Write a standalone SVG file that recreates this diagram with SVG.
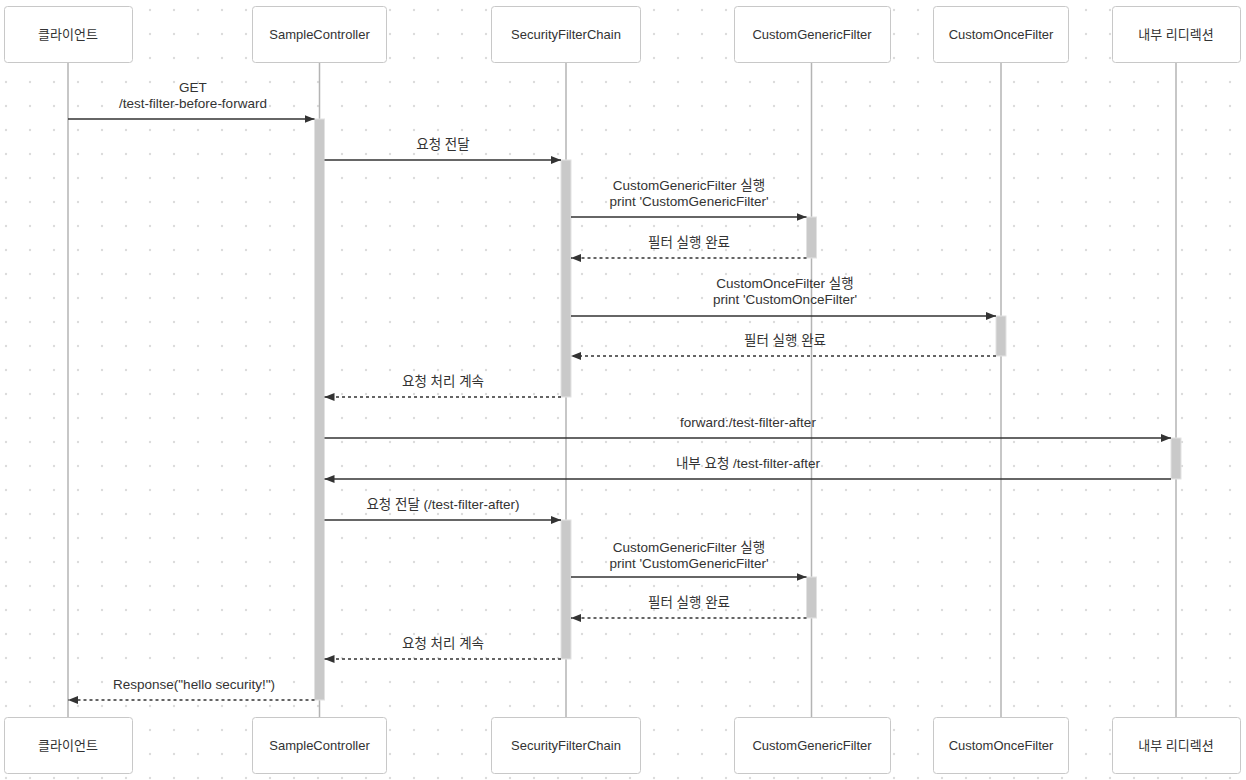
<svg xmlns="http://www.w3.org/2000/svg" width="1246" height="780" viewBox="0 0 1246 780">
<style>
.box{fill:#fff;stroke:#c8c8c8;stroke-width:1}
.nt{font-family:"Liberation Sans","Noto Sans CJK KR",sans-serif;font-size:13px;fill:#333;text-anchor:middle}
.lt{font-family:"Liberation Sans","Noto Sans CJK KR",sans-serif;font-size:13.5px;fill:#333;text-anchor:middle}
.life{stroke:#b4b4b4;stroke-width:1.5;fill:none}
.act{fill:#c9c9c9;stroke:#e2e2e2;stroke-width:1}
.msg{stroke:#333;stroke-width:1.3;fill:none;marker-end:url(#ah)}
.dash{stroke-dasharray:3,3}
</style>
<defs>
<pattern id="dots" width="24" height="24" patternUnits="userSpaceOnUse">
<circle cx="6" cy="10" r="1.2" fill="#dcdcdc"/>
</pattern>
<marker id="ah" viewBox="0 0 10 8" refX="10" refY="4" markerWidth="10" markerHeight="8" markerUnits="userSpaceOnUse" orient="auto">
<path d="M0,0 L10,4 L0,8 Z" fill="#333"/>
</marker>
</defs>
<rect width="1246" height="780" fill="#fff"/>
<rect width="1246" height="780" fill="url(#dots)"/>
<g id="lifelines">
<line class="life" x1="68" y1="62" x2="68" y2="718"/>
<line class="life" x1="319.5" y1="62" x2="319.5" y2="718"/>
<line class="life" x1="566" y1="62" x2="566" y2="718"/>
<line class="life" x1="811.5" y1="62" x2="811.5" y2="718"/>
<line class="life" x1="1001" y1="62" x2="1001" y2="718"/>
<line class="life" x1="1176" y1="62" x2="1176" y2="718"/>
</g>
<g id="activations">
<rect class="act" x="314.5" y="119" width="10" height="581"/>
<rect class="act" x="561" y="160" width="10" height="237"/>
<rect class="act" x="806.5" y="217" width="10" height="41"/>
<rect class="act" x="996" y="316" width="10" height="40"/>
<rect class="act" x="1171" y="438" width="10" height="41"/>
<rect class="act" x="561" y="520" width="10" height="139"/>
<rect class="act" x="806.5" y="577" width="10" height="41"/>
</g>
<g id="client">
<rect class="box" x="4.5" y="6.5" width="128" height="56" rx="3"/>
<text class="nt" x="68" y="39">클라이언트</text>
<rect class="box" x="4.5" y="717.5" width="128" height="56" rx="3"/>
<text class="nt" x="68" y="750">클라이언트</text>
</g>
<g id="sampleController">
<rect class="box" x="252.5" y="6.5" width="134" height="56" rx="3"/>
<text class="nt" x="319.5" y="39">SampleController</text>
<rect class="box" x="252.5" y="717.5" width="134" height="56" rx="3"/>
<text class="nt" x="319.5" y="750">SampleController</text>
</g>
<g id="securityFilterChain">
<rect class="box" x="491.5" y="6.5" width="149" height="56" rx="3"/>
<text class="nt" x="566" y="39">SecurityFilterChain</text>
<rect class="box" x="491.5" y="717.5" width="149" height="56" rx="3"/>
<text class="nt" x="566" y="750">SecurityFilterChain</text>
</g>
<g id="customGenericFilter">
<rect class="box" x="734.5" y="6.5" width="156" height="56" rx="3"/>
<text class="nt" x="812" y="39">CustomGenericFilter</text>
<rect class="box" x="734.5" y="717.5" width="156" height="56" rx="3"/>
<text class="nt" x="812" y="750">CustomGenericFilter</text>
</g>
<g id="customOnceFilter">
<rect class="box" x="933.5" y="6.5" width="135" height="56" rx="3"/>
<text class="nt" x="1001" y="39">CustomOnceFilter</text>
<rect class="box" x="933.5" y="717.5" width="135" height="56" rx="3"/>
<text class="nt" x="1001" y="750">CustomOnceFilter</text>
</g>
<g id="internalRedirect">
<rect class="box" x="1112.5" y="6.5" width="128" height="56" rx="3"/>
<text class="nt" x="1176" y="39">내부 리디렉션</text>
<rect class="box" x="1112.5" y="717.5" width="128" height="56" rx="3"/>
<text class="nt" x="1176" y="750">내부 리디렉션</text>
</g>
<g id="connectors">
<line class="msg" x1="68" y1="119" x2="314.5" y2="119"/>
<text class="lt" x="193" y="92">GET</text>
<text class="lt" x="193" y="108">/test-filter-before-forward</text>
<line class="msg" x1="324.5" y1="160" x2="561" y2="160"/>
<text class="lt" x="443" y="149">요청 전달</text>
<line class="msg" x1="571" y1="217" x2="806.5" y2="217"/>
<text class="lt" x="689" y="190">CustomGenericFilter 실행</text>
<text class="lt" x="689" y="206">print 'CustomGenericFilter'</text>
<line class="msg dash" x1="806.5" y1="258" x2="571" y2="258"/>
<text class="lt" x="689" y="247">필터 실행 완료</text>
<line class="msg" x1="571" y1="316" x2="996" y2="316"/>
<text class="lt" x="785" y="288">CustomOnceFilter 실행</text>
<text class="lt" x="785" y="304">print 'CustomOnceFilter'</text>
<line class="msg dash" x1="996" y1="356" x2="571" y2="356"/>
<text class="lt" x="785" y="345">필터 실행 완료</text>
<line class="msg dash" x1="561" y1="397" x2="324.5" y2="397"/>
<text class="lt" x="443" y="386">요청 처리 계속</text>
<line class="msg" x1="324.5" y1="438" x2="1171" y2="438"/>
<text class="lt" x="748" y="427">forward:/test-filter-after</text>
<line class="msg" x1="1171" y1="479" x2="324.5" y2="479"/>
<text class="lt" x="748" y="468">내부 요청 /test-filter-after</text>
<line class="msg" x1="324.5" y1="520" x2="561" y2="520"/>
<text class="lt" x="443" y="509">요청 전달 (/test-filter-after)</text>
<line class="msg" x1="571" y1="577" x2="806.5" y2="577"/>
<text class="lt" x="689" y="552">CustomGenericFilter 실행</text>
<text class="lt" x="689" y="568">print 'CustomGenericFilter'</text>
<line class="msg dash" x1="806.5" y1="618" x2="571" y2="618"/>
<text class="lt" x="689" y="607">필터 실행 완료</text>
<line class="msg dash" x1="561" y1="659" x2="324.5" y2="659"/>
<text class="lt" x="443" y="648">요청 처리 계속</text>
<line class="msg dash" x1="314.5" y1="700" x2="68" y2="700"/>
<text class="lt" x="194" y="689">Response("hello security!")</text>
</g>
</svg>
